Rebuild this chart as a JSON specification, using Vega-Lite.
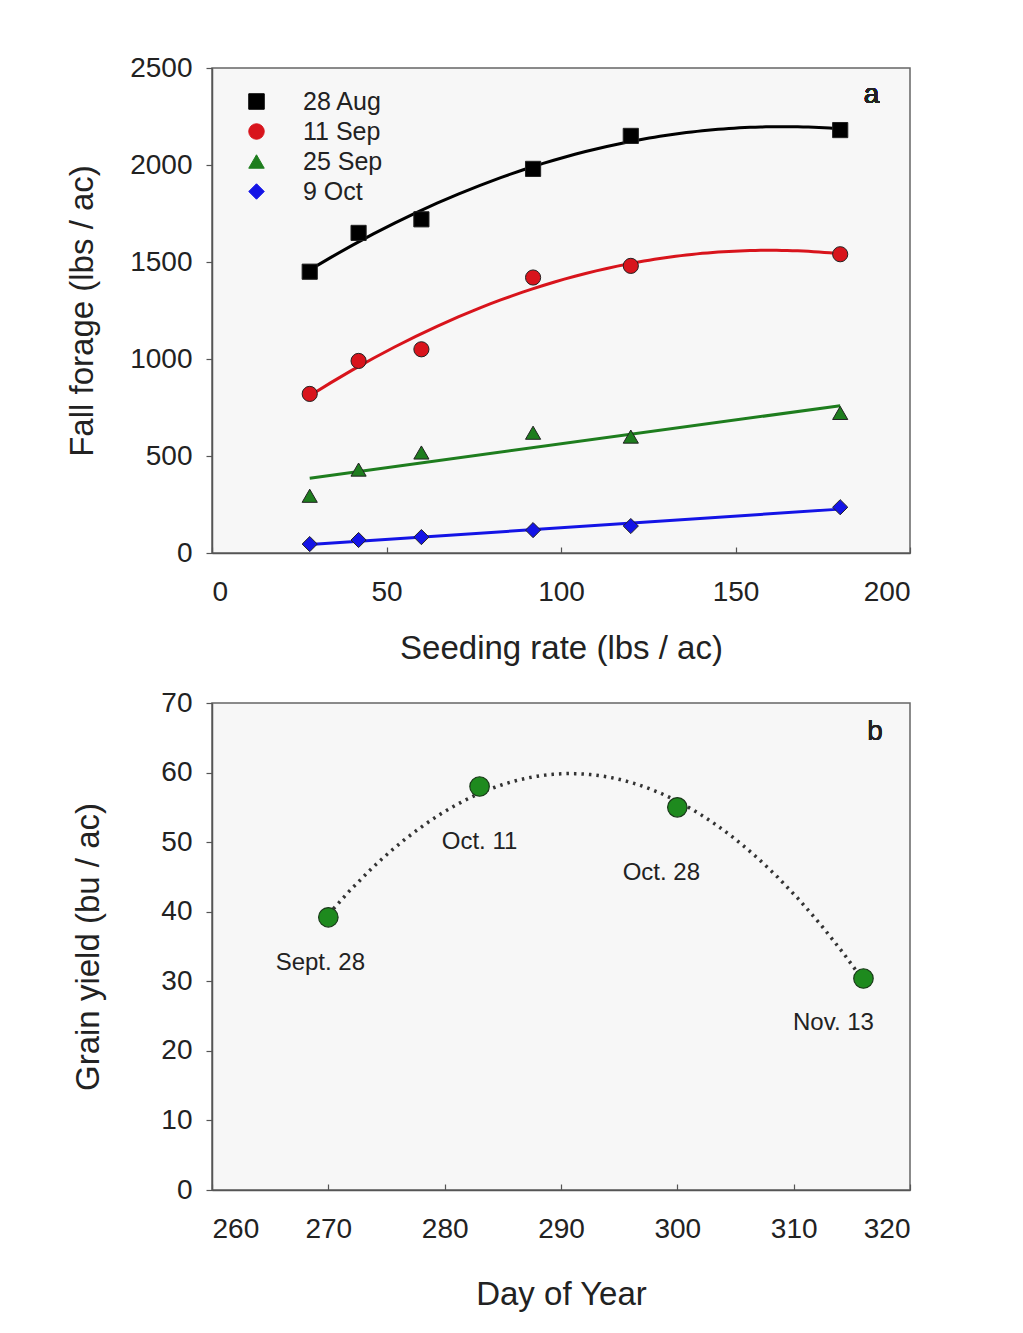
{
  "$schema": "https://vega.github.io/schema/vega-lite/v6.json",
  "background": "#ffffff",
  "padding": {"left": 65, "top": 53, "right": 10, "bottom": 10},
  "config": {
    "font": "Liberation Sans",
    "view": {"stroke": "#666666", "strokeWidth": 1.5, "fill": "#f7f7f7"},
    "axis": {
      "grid": false,
      "domainColor": "#555555",
      "domainWidth": 1.5,
      "tickColor": "#555555",
      "tickWidth": 1.2,
      "labelFont": "Liberation Sans",
      "labelFontSize": 28,
      "labelColor": "#222222",
      "titleFont": "Liberation Sans",
      "titleFontSize": 33,
      "titleFontWeight": "normal",
      "titleColor": "#222222",
      "format": "d"
    },
    "axisX": {"tickSize": -6, "labelPadding": 31, "titlePadding": 26},
    "axisY": {"tickSize": 6, "labelPadding": 14, "titlePadding": 30},
    "legend": {
      "labelFont": "Liberation Sans",
      "labelFontSize": 25,
      "labelColor": "#222222"
    }
  },
  "datasets": {
    "forage": [
      {"rate": 28, "forage": 1450, "date": "28 Aug"},
      {"rate": 42, "forage": 1650, "date": "28 Aug"},
      {"rate": 60, "forage": 1720, "date": "28 Aug"},
      {"rate": 92, "forage": 1980, "date": "28 Aug"},
      {"rate": 120, "forage": 2150, "date": "28 Aug"},
      {"rate": 180, "forage": 2180, "date": "28 Aug"},
      {"rate": 28, "forage": 820, "date": "11 Sep"},
      {"rate": 42, "forage": 990, "date": "11 Sep"},
      {"rate": 60, "forage": 1050, "date": "11 Sep"},
      {"rate": 92, "forage": 1420, "date": "11 Sep"},
      {"rate": 120, "forage": 1480, "date": "11 Sep"},
      {"rate": 180, "forage": 1540, "date": "11 Sep"},
      {"rate": 28, "forage": 295, "date": "25 Sep"},
      {"rate": 42, "forage": 430, "date": "25 Sep"},
      {"rate": 60, "forage": 518, "date": "25 Sep"},
      {"rate": 92, "forage": 620, "date": "25 Sep"},
      {"rate": 120, "forage": 600, "date": "25 Sep"},
      {"rate": 180, "forage": 722, "date": "25 Sep"},
      {"rate": 28, "forage": 46, "date": "9 Oct"},
      {"rate": 42, "forage": 67, "date": "9 Oct"},
      {"rate": 60, "forage": 82, "date": "9 Oct"},
      {"rate": 92, "forage": 118, "date": "9 Oct"},
      {"rate": 120, "forage": 139, "date": "9 Oct"},
      {"rate": 180, "forage": 236, "date": "9 Oct"}
    ],
    "grain": [
      {"day": 270, "yield": 39.2, "label": "Sept. 28"},
      {"day": 283, "yield": 58.0, "label": "Oct. 11"},
      {"day": 300, "yield": 55.0, "label": "Oct. 28"},
      {"day": 316, "yield": 30.4, "label": "Nov. 13"}
    ]
  },
  "vconcat": [
    {
      "width": 698,
      "height": 485,
      "data": {"name": "forage"},
      "layer": [
        {
          "transform": [
            {"filter": "datum.date === '28 Aug' || datum.date === '11 Sep'"},
            {"regression": "forage", "on": "rate", "groupby": ["date"], "method": "poly", "order": 2, "extent": [28, 180]}
          ],
          "mark": {"type": "line", "strokeWidth": 3},
          "encoding": {
            "x": {"field": "rate", "type": "quantitative"},
            "y": {"field": "forage", "type": "quantitative"},
            "color": {"field": "date", "type": "nominal",
              "scale": {"domain": ["28 Aug", "11 Sep", "25 Sep", "9 Oct"], "range": ["#000000", "#d8141c", "#1e7d1e", "#1414e6"]}}
          }
        },
        {
          "transform": [
            {"filter": "datum.date === '25 Sep' || datum.date === '9 Oct'"},
            {"regression": "forage", "on": "rate", "groupby": ["date"], "method": "linear", "extent": [28, 180]}
          ],
          "mark": {"type": "line", "strokeWidth": 3},
          "encoding": {
            "x": {"field": "rate", "type": "quantitative"},
            "y": {"field": "forage", "type": "quantitative"},
            "color": {"field": "date", "type": "nominal",
              "scale": {"domain": ["28 Aug", "11 Sep", "25 Sep", "9 Oct"], "range": ["#000000", "#d8141c", "#1e7d1e", "#1414e6"]}}
          }
        },
        {
          "mark": {"type": "point", "filled": true, "size": 230, "stroke": "#222222", "strokeWidth": 1, "opacity": 1},
          "encoding": {
            "x": {"field": "rate", "type": "quantitative",
              "scale": {"domain": [0, 200], "nice": false},
              "axis": {"values": [0, 50, 100, 150, 200], "title": "Seeding rate (lbs / ac)"}},
            "y": {"field": "forage", "type": "quantitative",
              "scale": {"domain": [0, 2500], "nice": false},
              "axis": {"values": [0, 500, 1000, 1500, 2000, 2500], "title": "Fall forage (lbs / ac)"}},
            "color": {"field": "date", "type": "nominal",
              "scale": {"domain": ["28 Aug", "11 Sep", "25 Sep", "9 Oct"], "range": ["#000000", "#d8141c", "#1e7d1e", "#1414e6"]},
              "legend": {"title": null, "orient": "none", "legendX": 32, "legendY": 21, "symbolSize": 240, "rowPadding": 4, "labelOffset": 34, "symbolStrokeColor": "#222222", "symbolStrokeWidth": 1, "symbolOpacity": 1, "padding": 0}},
            "shape": {"field": "date", "type": "nominal",
              "scale": {"domain": ["28 Aug", "11 Sep", "25 Sep", "9 Oct"], "range": ["square", "circle", "triangle-up", "diamond"]},
              "legend": {"title": null, "orient": "none", "legendX": 32, "legendY": 21, "symbolSize": 240, "rowPadding": 4, "labelOffset": 34, "symbolStrokeColor": "#222222", "symbolStrokeWidth": 1, "symbolOpacity": 1, "padding": 0}}
          }
        },
        {
          "mark": {"type": "text", "fontSize": 28, "fontWeight": "normal", "color": "#222222"},
          "encoding": {
            "x": {"datum": 189},
            "y": {"datum": 2361},
            "text": {"value": "a"}
          }
        }
      ]
    },
    {
      "width": 698,
      "height": 487,
      "data": {"name": "grain"},
      "layer": [
        {
          "transform": [
            {"regression": "yield", "on": "day", "method": "poly", "order": 2, "extent": [270, 316]}
          ],
          "mark": {"type": "line", "strokeWidth": 3.5, "strokeDash": [2.5, 5], "color": "#333333"},
          "encoding": {
            "x": {"field": "day", "type": "quantitative"},
            "y": {"field": "yield", "type": "quantitative"}
          }
        },
        {
          "mark": {"type": "point", "filled": true, "size": 380, "color": "#1e8a1e", "stroke": "#1a3a1a", "strokeWidth": 1.2, "opacity": 1},
          "encoding": {
            "x": {"field": "day", "type": "quantitative",
              "scale": {"domain": [260, 320], "nice": false},
              "axis": {"values": [260, 270, 280, 290, 300, 310, 320], "title": "Day of Year", "titlePadding": 35}},
            "y": {"field": "yield", "type": "quantitative",
              "scale": {"domain": [0, 70], "nice": false},
              "axis": {"values": [0, 10, 20, 30, 40, 50, 60, 70], "title": "Grain yield (bu / ac)", "titlePadding": 55}}
          }
        },
        {
          "transform": [{"filter": "datum.label === 'Sept. 28'"}],
          "mark": {"type": "text", "fontSize": 24, "color": "#222222", "dx": -8, "dy": 46},
          "encoding": {
            "x": {"field": "day", "type": "quantitative"},
            "y": {"field": "yield", "type": "quantitative"},
            "text": {"field": "label"}
          }
        },
        {
          "transform": [{"filter": "datum.label === 'Oct. 11'"}],
          "mark": {"type": "text", "fontSize": 24, "color": "#222222", "dx": 0, "dy": 56},
          "encoding": {
            "x": {"field": "day", "type": "quantitative"},
            "y": {"field": "yield", "type": "quantitative"},
            "text": {"field": "label"}
          }
        },
        {
          "transform": [{"filter": "datum.label === 'Oct. 28'"}],
          "mark": {"type": "text", "fontSize": 24, "color": "#222222", "dx": -16, "dy": 66},
          "encoding": {
            "x": {"field": "day", "type": "quantitative"},
            "y": {"field": "yield", "type": "quantitative"},
            "text": {"field": "label"}
          }
        },
        {
          "transform": [{"filter": "datum.label === 'Nov. 13'"}],
          "mark": {"type": "text", "fontSize": 24, "color": "#222222", "dx": -30, "dy": 44},
          "encoding": {
            "x": {"field": "day", "type": "quantitative"},
            "y": {"field": "yield", "type": "quantitative"},
            "text": {"field": "label"}
          }
        },
        {
          "mark": {"type": "text", "fontSize": 28, "fontWeight": "normal", "color": "#222222"},
          "encoding": {
            "x": {"datum": 317},
            "y": {"datum": 65.8},
            "text": {"value": "b"}
          }
        }
      ]
    }
  ],
  "spacing": 22
}
